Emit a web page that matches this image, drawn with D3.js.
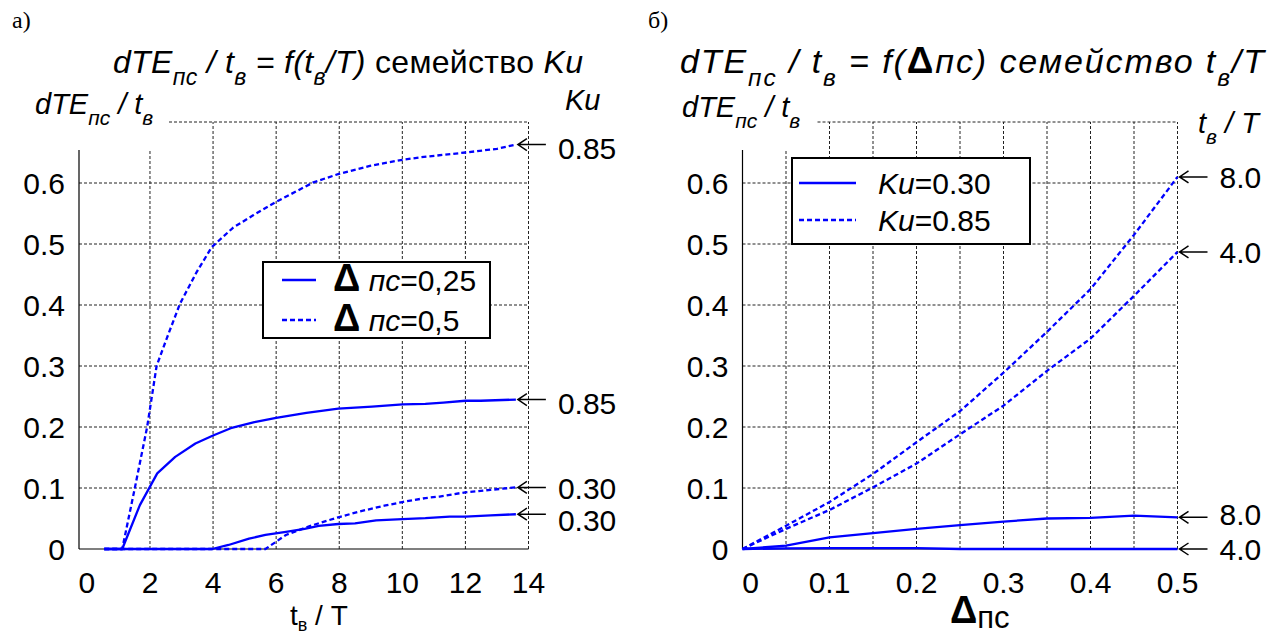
<!DOCTYPE html>
<html>
<head>
<meta charset="utf-8">
<script src="https://cdn.jsdelivr.net/npm/d3@7/dist/d3.min.js"></script>
<style>
  body { margin: 0; background: #fff; }
  svg { display: block; font-family: "Liberation Sans", Arial, sans-serif; }
</style>
</head>
<body>
<svg id="chart" width="1280" height="637"></svg>
<script>
// ---- данные: левый график, dTE/t = f(t/T), семейство Ku
const yTicks = [0, 0.1, 0.2, 0.3, 0.4, 0.5, 0.6];
const yGrid = [0.1, 0.2, 0.3, 0.4, 0.5, 0.6, 0.7];
const leftXTicks = [0, 2, 4, 6, 8, 10, 12, 14];
const leftXGrid = [2, 4, 6, 8, 10, 12, 14];

// Ku=0.85, Δпс=0.25 (сплошная)
const hiSolidX = [0.55, 1.12, 1.68, 2.23, 2.8, 3.44, 4.0, 4.56, 5.31, 6.0, 6.96, 7.97, 9.04, 10.01, 10.73, 11.3, 12.0, 12.48, 13.6];
const hiSolidY = [0, 0, 0.072, 0.124, 0.151, 0.173, 0.186, 0.198, 0.208, 0.215, 0.223, 0.23, 0.2335, 0.237, 0.238, 0.24, 0.243, 0.243, 0.245];
// Ku=0.85, Δпс=0.5 (пунктир)
const hiDashX = [0.55, 1.12, 1.52, 1.91, 2.21, 2.53, 2.95, 3.48, 3.96, 4.64, 5.27, 5.96, 7.18, 7.99, 8.97, 10.0, 10.56, 12.0, 13.0, 13.6];
const hiDashY = [0, 0, 0.1, 0.2, 0.3, 0.345, 0.402, 0.454, 0.495, 0.527, 0.547, 0.568, 0.601, 0.615, 0.628, 0.638, 0.642, 0.65, 0.656, 0.663];
// Ku=0.30, Δпс=0.25 (сплошная)
const loSolidX = [0.55, 3.97, 4.49, 5.14, 5.66, 6.31, 6.9, 7.35, 7.97, 8.5, 9.17, 10.0, 10.73, 11.5, 12.0, 12.8, 13.6];
const loSolidY = [0, 0, 0.0066, 0.017, 0.023, 0.028, 0.033, 0.038, 0.041, 0.042, 0.047, 0.049, 0.0505, 0.053, 0.053, 0.055, 0.057];
// Ku=0.30, Δпс=0.5 (пунктир)
const loDashX = [0.55, 5.66, 6.31, 7.09, 7.97, 8.65, 9.43, 10.0, 10.73, 11.18, 12.0, 12.8, 13.6];
const loDashY = [0, 0, 0.023, 0.038, 0.052, 0.0615, 0.071, 0.077, 0.0835, 0.086, 0.093, 0.097, 0.101];
const leftEndLabels = ['0.85', '0.85', '0.30', '0.30'];

// ---- данные: правый график, dTE/t = f(Δпс), семейство t/T
const rightXTicks = [0, 0.1, 0.2, 0.3, 0.4, 0.5];
const rightXGrid = [0.05, 0.1, 0.15, 0.2, 0.25, 0.3, 0.35, 0.4, 0.45, 0.5];
const deltaX = [0, 0.05, 0.1, 0.15, 0.2, 0.25, 0.3, 0.35, 0.4, 0.45, 0.5];
const ku30t8 = [0, 0.0055, 0.019, 0.026, 0.033, 0.039, 0.045, 0.05, 0.051, 0.0546, 0.052];
const ku30t4 = [0, 0.001, 0.0015, 0.0015, 0.0015, 0, 0, 0, 0, 0, 0];
const ku85t8 = [0, 0.038, 0.077, 0.123, 0.175, 0.226, 0.289, 0.356, 0.426, 0.515, 0.61];
const ku85t4 = [0, 0.033, 0.064, 0.101, 0.14, 0.188, 0.235, 0.292, 0.345, 0.415, 0.487];
const rightEndLabels = ['8.0', '4.0', '8.0', '4.0'];

const blue = '#0000ff';
const svg = d3.select('#chart');

//текст с индексами и разными начертаниями
function rich(g, x, y, parts, size, anchor) {
    const t = g.append('text')
        .attr('x', x).attr('y', y)
        .attr('font-size', size)
        .attr('text-anchor', anchor || 'start')
        .attr('fill', '#000');
    let shift = 0;
    parts.forEach(p => {
        const ts = t.append('tspan').text(p.t);
        const want = p.sub ? size * 0.38 : (p.dy || 0);
        ts.attr('dy', want - shift);
        shift = want;
        if (p.sub) ts.attr('font-size', size * 0.72);
        if (p.s) ts.attr('font-size', p.s);
        if (p.i) ts.attr('font-style', 'italic');
        if (p.b) ts.attr('font-weight', 'bold');
    });
    return t;
}

function zip(xs, ys) {
    return xs.map((v, i) => [v, ys[i]]);
}

function drawPanel(opt) {
    const g = svg.append('g');
    const x = opt.x, y = opt.y;
    const [x0, x1] = x.range();
    const [yb, yt] = y.range();

    // сетка
    g.selectAll('line.vg').data(opt.xGrid).join('line')
        .attr('x1', d => x(d)).attr('x2', d => x(d))
        .attr('y1', yb).attr('y2', yt)
        .attr('stroke', '#222').attr('stroke-width', 1).attr('stroke-dasharray', '3,2');
    g.selectAll('line.hg').data(yGrid).join('line')
        .attr('x1', x0).attr('x2', x1)
        .attr('y1', d => y(d)).attr('y2', d => y(d))
        .attr('stroke', '#222').attr('stroke-width', 1).attr('stroke-dasharray', '3,2');

    // место под подпись оси Y
    g.append('rect').attr('x', x0 - 10).attr('y', yt - 8)
        .attr('width', opt.labelGap).attr('height', 150 - yt + 8).attr('fill', '#fff');

    // оси
    g.append('line').attr('x1', x0).attr('x2', x0).attr('y1', 150).attr('y2', yb)
        .attr('stroke', '#000').attr('stroke-width', 1.2);
    g.append('line').attr('x1', x0).attr('x2', x1).attr('y1', yb).attr('y2', yb)
        .attr('stroke', '#000').attr('stroke-width', 1.2);

    // подписи делений
    g.selectAll('text.yt').data(yTicks).join('text')
        .attr('x', x0 - 14).attr('y', d => y(d)).attr('dy', '0.36em')
        .attr('text-anchor', 'end').attr('font-size', 30)
        .text(d => d === 0 ? '0' : d3.format('.1f')(d));
    g.selectAll('text.xt').data(opt.xTicks).join('text')
        .attr('x', d => x(d) + (d === 0 ? opt.zeroShift : 0)).attr('y', yb + 44)
        .attr('text-anchor', 'middle').attr('font-size', 30)
        .text(opt.fmt);

    // кривые
    const line = d3.line().x(d => x(d[0])).y(d => y(d[1]));
    opt.series.forEach(s => {
        g.append('path').datum(s.pts)
            .attr('d', line)
            .attr('fill', 'none').attr('stroke', blue).attr('stroke-width', 2.3)
            .attr('stroke-linejoin', 'round')
            .attr('stroke-dasharray', s.dash ? '5,3' : null);
    });

    // стрелки с подписями
    opt.series.forEach((s, i) => {
        const last = s.pts[s.pts.length - 1];
        const tx = x(last[0]) + 2, ty = y(last[1]);
        g.append('path')
            .attr('d', `M${tx + 9},${ty - 6}L${tx},${ty}L${tx + 9},${ty + 6}M${tx},${ty}L${tx + 28},${ty}`)
            .attr('fill', 'none').attr('stroke', '#000').attr('stroke-width', 1.5);
        g.append('text').attr('x', tx + 40).attr('y', ty + opt.labelDy[i]).attr('dy', '0.36em')
            .attr('font-size', 30).text(opt.endLabels[i]);
    });

    // легенда
    const lg = opt.legend;
    g.append('rect').attr('x', lg.x).attr('y', lg.y).attr('width', lg.w).attr('height', lg.h)
        .attr('fill', '#fff').attr('stroke', '#000').attr('stroke-width', 2);
    lg.items.forEach((it, i) => {
        const ly = lg.y + lg.first + i * lg.step;
        g.append('line').attr('x1', lg.x + lg.lx0).attr('x2', lg.x + lg.lx1)
            .attr('y1', ly).attr('y2', ly)
            .attr('stroke', blue).attr('stroke-width', 2.3)
            .attr('stroke-dasharray', it.dash ? '5,3' : null);
        rich(g, lg.x + lg.tx, ly + 11, it.parts, 30);
    });
    return g;
}

// ---- левый график
const xL = d3.scaleLinear().domain([-0.25, 14]).range([79, 528.5]);
const yL = d3.scaleLinear().domain([0, 0.7]).range([549, 122]);
drawPanel({
    x: xL, y: yL,
    xGrid: leftXGrid, xTicks: leftXTicks, fmt: d => d, zeroShift: 0,
    labelGap: 98,
    series: [
        { pts: zip(hiDashX, hiDashY), dash: true },
        { pts: zip(hiSolidX, hiSolidY), dash: false },
        { pts: zip(loDashX, loDashY), dash: true },
        { pts: zip(loSolidX, loSolidY), dash: false }
    ],
    endLabels: leftEndLabels,
    labelDy: [4, 4, 1, 6],
    legend: {
        x: 263, y: 262, w: 227, h: 76, first: 18, step: 40, lx0: 19, lx1: 53, tx: 70,
        items: [
            { dash: false, parts: [{ t: 'Δ', b: true, s: 38 }, { t: ' пс', i: true }, { t: '=0,25' }] },
            { dash: true, parts: [{ t: 'Δ', b: true, s: 38 }, { t: ' пс', i: true }, { t: '=0,5' }] }
        ]
    }
});

// ---- правый график
const xR = d3.scaleLinear().domain([0, 0.5]).range([742.5, 1177.5]);
const yR = d3.scaleLinear().domain([0, 0.7]).range([549, 122]);
drawPanel({
    x: xR, y: yR,
    xGrid: rightXGrid, xTicks: rightXTicks, fmt: d => d === 0 ? '0' : d3.format('.1f')(d), zeroShift: 8,
    labelGap: 84,
    series: [
        { pts: zip(deltaX, ku85t8), dash: true },
        { pts: zip(deltaX, ku85t4), dash: true },
        { pts: zip(deltaX, ku30t8), dash: false },
        { pts: zip(deltaX, ku30t4), dash: false }
    ],
    endLabels: rightEndLabels,
    labelDy: [0, 0, -3, 0],
    legend: {
        x: 792, y: 158, w: 238, h: 86, first: 25, step: 37, lx0: 7, lx1: 64, tx: 86,
        items: [
            { dash: false, parts: [{ t: 'Ku', i: true }, { t: '=0.30' }] },
            { dash: true, parts: [{ t: 'Ku', i: true }, { t: '=0.85' }] }
        ]
    }
});

// ---- заголовки и подписи осей
svg.append('text').attr('x', 12).attr('y', 28).attr('font-size', 24)
    .attr('font-family', '"Liberation Serif", "Times New Roman", serif').text('а)');
svg.append('text').attr('x', 648).attr('y', 28).attr('font-size', 24)
    .attr('font-family', '"Liberation Serif", "Times New Roman", serif').text('б)');

rich(svg, 113, 73, [
    { t: 'dTE', i: true }, { t: 'пс', i: true, sub: true }, { t: ' / t', i: true }, { t: 'в', i: true, sub: true },
    { t: ' = f(t', i: true }, { t: 'в', i: true, sub: true }, { t: '/T)', i: true },
    { t: ' семейство ' }, { t: 'Ku', i: true }
], 32).attr('textLength', 470).attr('lengthAdjust', 'spacing');

rich(svg, 680, 73, [
    { t: 'dTE', i: true }, { t: 'пс', i: true, sub: true }, { t: ' / t', i: true }, { t: 'в', i: true, sub: true },
    { t: ' = f(', i: true }, { t: 'Δ', b: true, s: 37 }, { t: 'пс) семейство   t', i: true }, { t: 'в', i: true, sub: true },
    { t: '/T', i: true }
], 34).attr('textLength', 584).attr('lengthAdjust', 'spacing');

// подписи оси Y
const yLab = [{ t: 'dTE', i: true }, { t: 'пс', i: true, sub: true }, { t: ' / t', i: true }, { t: 'в', i: true, sub: true }];
rich(svg, 35, 114, yLab, 29);
rich(svg, 682, 117, yLab, 29);

// заголовки семейств справа
rich(svg, 565, 110, [{ t: 'Ku', i: true }], 29);
rich(svg, 1198, 133, [{ t: 't', i: true }, { t: 'в', i: true, sub: true }, { t: ' / T', i: true }], 29);

// подписи оси X
rich(svg, 290, 625, [{ t: 't' }, { t: 'в', dy: 6, s: 18 }, { t: ' / T' }], 28);
rich(svg, 950, 623, [{ t: 'Δ', b: true, s: 38 }, { t: 'пс', dy: 5, s: 31 }], 31);
</script>
</body>
</html>
